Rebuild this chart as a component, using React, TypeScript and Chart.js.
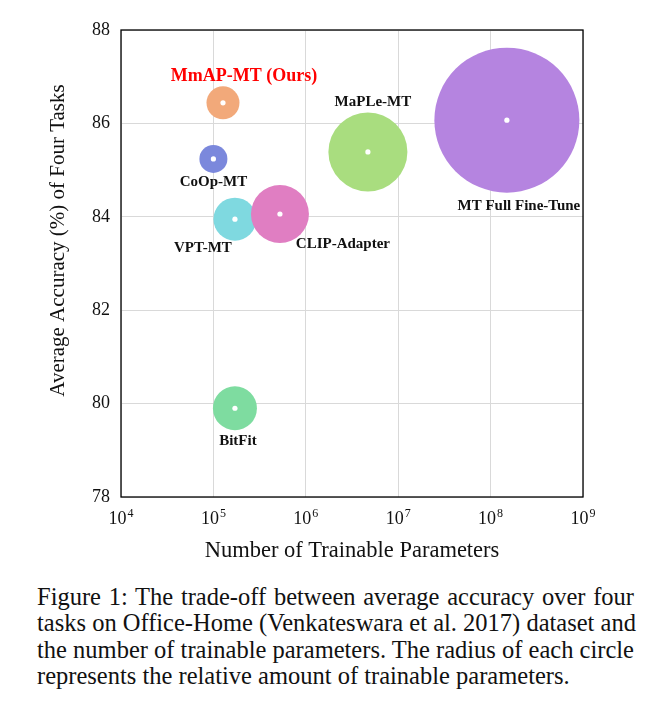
import React, { useEffect, useRef } from "react";
import { Chart, registerables } from "chart.js";

Chart.register(...registerables);

// ---- data ----
const methods = [
  "MmAP-MT (Ours)",
  "CoOp-MT",
  "VPT-MT",
  "CLIP-Adapter",
  "MaPLe-MT",
  "MT Full Fine-Tune",
  "BitFit",
];
const trainableParams = [1.27e5, 1.0e5, 1.71e5, 5.25e5, 4.7e6, 1.5e8, 1.71e5];
const avgAccuracy = [86.44, 85.24, 83.95, 84.06, 85.39, 86.07, 79.9];
const bubbleRadius = [16.5, 14, 21.5, 29, 39.5, 72.5, 22];
const xTickExponents = [4, 5, 6, 7, 8, 9];
const yTickValues = [78, 80, 82, 84, 86, 88];

// ---- styles ----
const bubbleColors = [
  "#F2A97A",
  "#7B88DC",
  "#7FD9E0",
  "#E07EC2",
  "#A9DD7F",
  "#B584E0",
  "#7EDCA0",
];
const labelOffsets: [number, number][] = [
  [21, -27],
  [0, 23],
  [-32, 29],
  [63, 30],
  [5, -50],
  [12, 86],
  [3, 33],
];
const SERIF = '"Liberation Serif", "Times New Roman", serif';

const captionLines = [
  "Figure 1: The trade-off between average accuracy over four",
  "tasks on Office-Home (Venkateswara et al. 2017) dataset and",
  "the number of trainable parameters. The radius of each circle",
  "represents the relative amount of trainable parameters.",
];

const overlayPlugin = {
  id: "overlay",
  afterDraw(chart: any) {
    const { ctx, chartArea, scales } = chart;
    const xs = scales.x;
    const ys = scales.y;
    ctx.save();
    // frame
    ctx.strokeStyle = "#000";
    ctx.lineWidth = 1.3;
    ctx.strokeRect(chartArea.left, chartArea.top, chartArea.right - chartArea.left, chartArea.bottom - chartArea.top);

    // bubble labels
    ctx.textAlign = "center";
    ctx.textBaseline = "middle";
    methods.forEach((m, i) => {
      const px = xs.getPixelForValue(trainableParams[i]);
      const py = ys.getPixelForValue(avgAccuracy[i]);
      const [dx, dy] = labelOffsets[i];
      if (i === 0) {
        ctx.fillStyle = "#FF0000";
        ctx.font = `bold 18px ${SERIF}`;
      } else {
        ctx.fillStyle = "#111";
        ctx.font = `bold 15px ${SERIF}`;
      }
      ctx.fillText(m, px + dx, py + dy);
    });

    // x tick labels 10^n
    ctx.fillStyle = "#111";
    ctx.textBaseline = "alphabetic";
    ctx.textAlign = "left";
    xTickExponents.forEach((e) => {
      const px = xs.getPixelForValue(Math.pow(10, e));
      ctx.font = `18px ${SERIF}`;
      const w10 = ctx.measureText("10").width;
      ctx.font = `12px ${SERIF}`;
      const we = ctx.measureText(String(e)).width;
      const start = px - (w10 + we + 1) / 2;
      ctx.font = `18px ${SERIF}`;
      ctx.fillText("10", start, chartArea.bottom + 27);
      ctx.font = `12px ${SERIF}`;
      ctx.fillText(String(e), start + w10 + 1, chartArea.bottom + 20);
    });

    // axis titles
    ctx.textAlign = "center";
    ctx.textBaseline = "middle";
    ctx.font = `22.5px ${SERIF}`;
    ctx.fillText("Number of Trainable Parameters", (chartArea.left + chartArea.right) / 2, chartArea.bottom + 54);
    ctx.translate(chartArea.left - 63, (chartArea.top + chartArea.bottom) / 2 - 23);
    ctx.rotate(-Math.PI / 2);
    ctx.font = `21px ${SERIF}`;
    ctx.fillText("Average Accuracy (%) of Four Tasks", 0, 0);
    ctx.restore();
  },
};

export default function App() {
  const ref = useRef<HTMLCanvasElement>(null);
  useEffect(() => {
    if (!ref.current) return;
    const pts = methods.map((_, i) => ({ x: trainableParams[i], y: avgAccuracy[i] }));
    const chart = new Chart(ref.current, {
      type: "bubble",
      data: {
        datasets: [
          {
            label: "centers",
            data: pts,
            backgroundColor: "#ffffff",
            borderWidth: 0,
            radius: 2.6,
            hoverRadius: 0,
            order: 0,
            clip: false,
          } as any,
          {
            label: "methods",
            data: methods.map((_, i) => ({ x: trainableParams[i], y: avgAccuracy[i], r: bubbleRadius[i] })),
            backgroundColor: bubbleColors,
            borderWidth: 0,
            hoverRadius: 0,
            order: 1,
            clip: false,
          } as any,
        ],
      },
      options: {
        responsive: false,
        animation: false,
        events: [],
        layout: { autoPadding: false, padding: { top: 22, right: 68, left: 0, bottom: 0 } },
        plugins: { legend: { display: false }, tooltip: { enabled: false } },
        scales: {
          x: {
            type: "logarithmic",
            min: 1e4,
            max: 1e9,
            afterBuildTicks: (s: any) => {
              s.ticks = xTickExponents.map((e) => ({ value: Math.pow(10, e) }));
            },
            afterFit: (s: any) => {
              s.height = 71;
            },
            ticks: { display: false },
            grid: { color: "#d9d9d9", drawTicks: false, lineWidth: 1 },
            border: { display: false },
          },
          y: {
            type: "linear",
            min: 78,
            max: 88,
            afterBuildTicks: (s: any) => {
              s.ticks = yTickValues.map((v) => ({ value: v }));
            },
            afterFit: (s: any) => {
              s.width = 113;
            },
            ticks: {
              color: "#111",
              padding: 11,
              font: { family: SERIF, size: 18 },
            },
            grid: { color: "#d9d9d9", drawTicks: false, lineWidth: 1 },
            border: { display: false },
          },
        },
      },
      plugins: [overlayPlugin],
    });
    return () => chart.destroy();
  }, []);

  return (
    <div style={{ width: 643, background: "#fff" }}>
      <canvas ref={ref} width={643} height={560} style={{ display: "block", width: 643, height: 560 }} />
      <div
        style={{
          marginTop: 16,
          marginLeft: 29,
          width: 597,
          fontFamily: SERIF,
          fontSize: 24.5,
          lineHeight: "26.3px",
          color: "#111",
        }}
      >
        {captionLines.map((l, i) => (
          <div
            key={i}
            style={{
              textAlign: "justify",
              textAlignLast: i < captionLines.length - 1 ? "justify" : "left",
              whiteSpace: "nowrap",
            }}
          >
            {l}
          </div>
        ))}
      </div>
    </div>
  );
}
